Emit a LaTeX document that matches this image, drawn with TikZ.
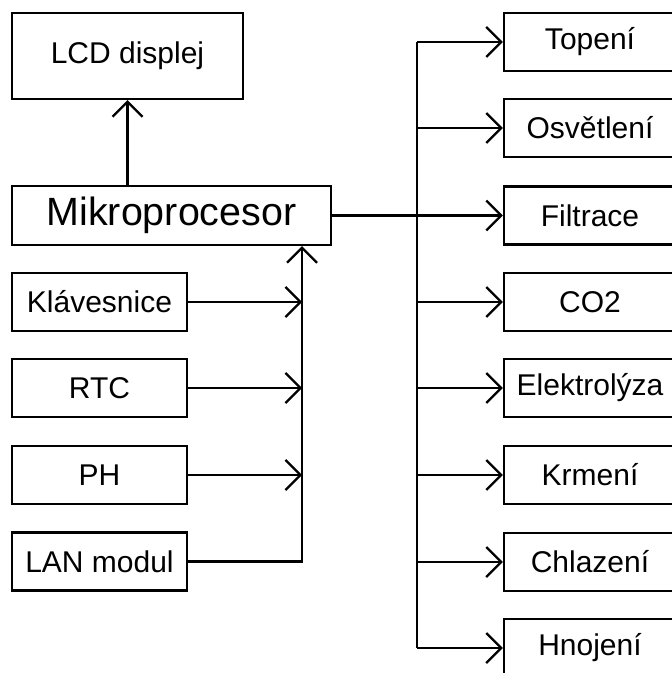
\documentclass[tikz,border=0pt]{standalone}
\usepackage{fontspec}
\setmainfont{Liberation Sans}
\usetikzlibrary{arrows.meta}
\begin{document}
\begin{tikzpicture}[x=0.5pt,y=-0.5pt,
  box/.style={draw, line width=1.2pt, inner sep=0pt, font=\fontsize{15}{18}\selectfont},
  lbox/.style={box, minimum width={175*0.5pt}, minimum height={58*0.5pt}},
  rbox/.style={box, minimum width={172*0.5pt}, minimum height={58*0.5pt}},
  arr/.style={line width=1.1pt, -{Straight Barb[length=7.5pt,width=15pt,line width=1.1pt]}},
  wire/.style={line width=1.1pt}]
\useasboundingbox (0,0) rectangle (672,673);
\clip (0,0) rectangle (672,673);
% left column
\node[box, minimum width={231*0.5pt}, minimum height={86*0.5pt}] (lcd) at (127.5,56) {LCD displej};
\node[box, minimum width={319*0.5pt}, minimum height={59*0.5pt}, font=\fontsize{19.7}{23}\selectfont] (mikro) at (171.5,215.5) {Mikroprocesor};
\node[lbox] (klav) at (99.5,302) {Klávesnice};
\node[lbox] (rtc) at (99.5,388) {RTC};
\node[lbox] (ph) at (99.5,475) {PH};
\node[lbox] (lan) at (99.5,561.5) {LAN modul};
% right column
\node[rbox] (topeni) at (590,42) {Topení};
\node[rbox] (osvetleni) at (590,128) {Osvětlení};
\node[rbox] (filtrace) at (590,215.5) {Filtrace};
\node[rbox] (co2) at (590,302) {CO2};
\node[rbox] (elektrolyza) at (590,388) {Elektrolýza};
\node[rbox] (krmeni) at (590,475) {Krmení};
\node[rbox] (chlazeni) at (590,562) {Chlazení};
\node[rbox] (hnojeni) at (590,648) {Hnojení};
% buses
\coordinate (lb) at (302,0);
\coordinate (rb) at (417,0);
% left connectors
\draw[arr] (lcd.south |- mikro.north) -- (lcd.south);
\draw[arr] (klav.east) -- (lb |- klav.east);
\draw[arr] (rtc.east) -- (lb |- rtc.east);
\draw[arr] (ph.east) -- (lb |- ph.east);
\draw[arr] (lan.east) -| (lb |- mikro.south);
% right connectors
\draw[arr] (mikro.east) -- (filtrace.west);
\draw[wire] (rb |- topeni.west) -- (rb |- hnojeni.west);
\foreach \n in {topeni,osvetleni,co2,elektrolyza,krmeni,chlazeni,hnojeni}
  \draw[arr] (rb |- \n.west) -- (\n.west);
\end{tikzpicture}
\end{document}
